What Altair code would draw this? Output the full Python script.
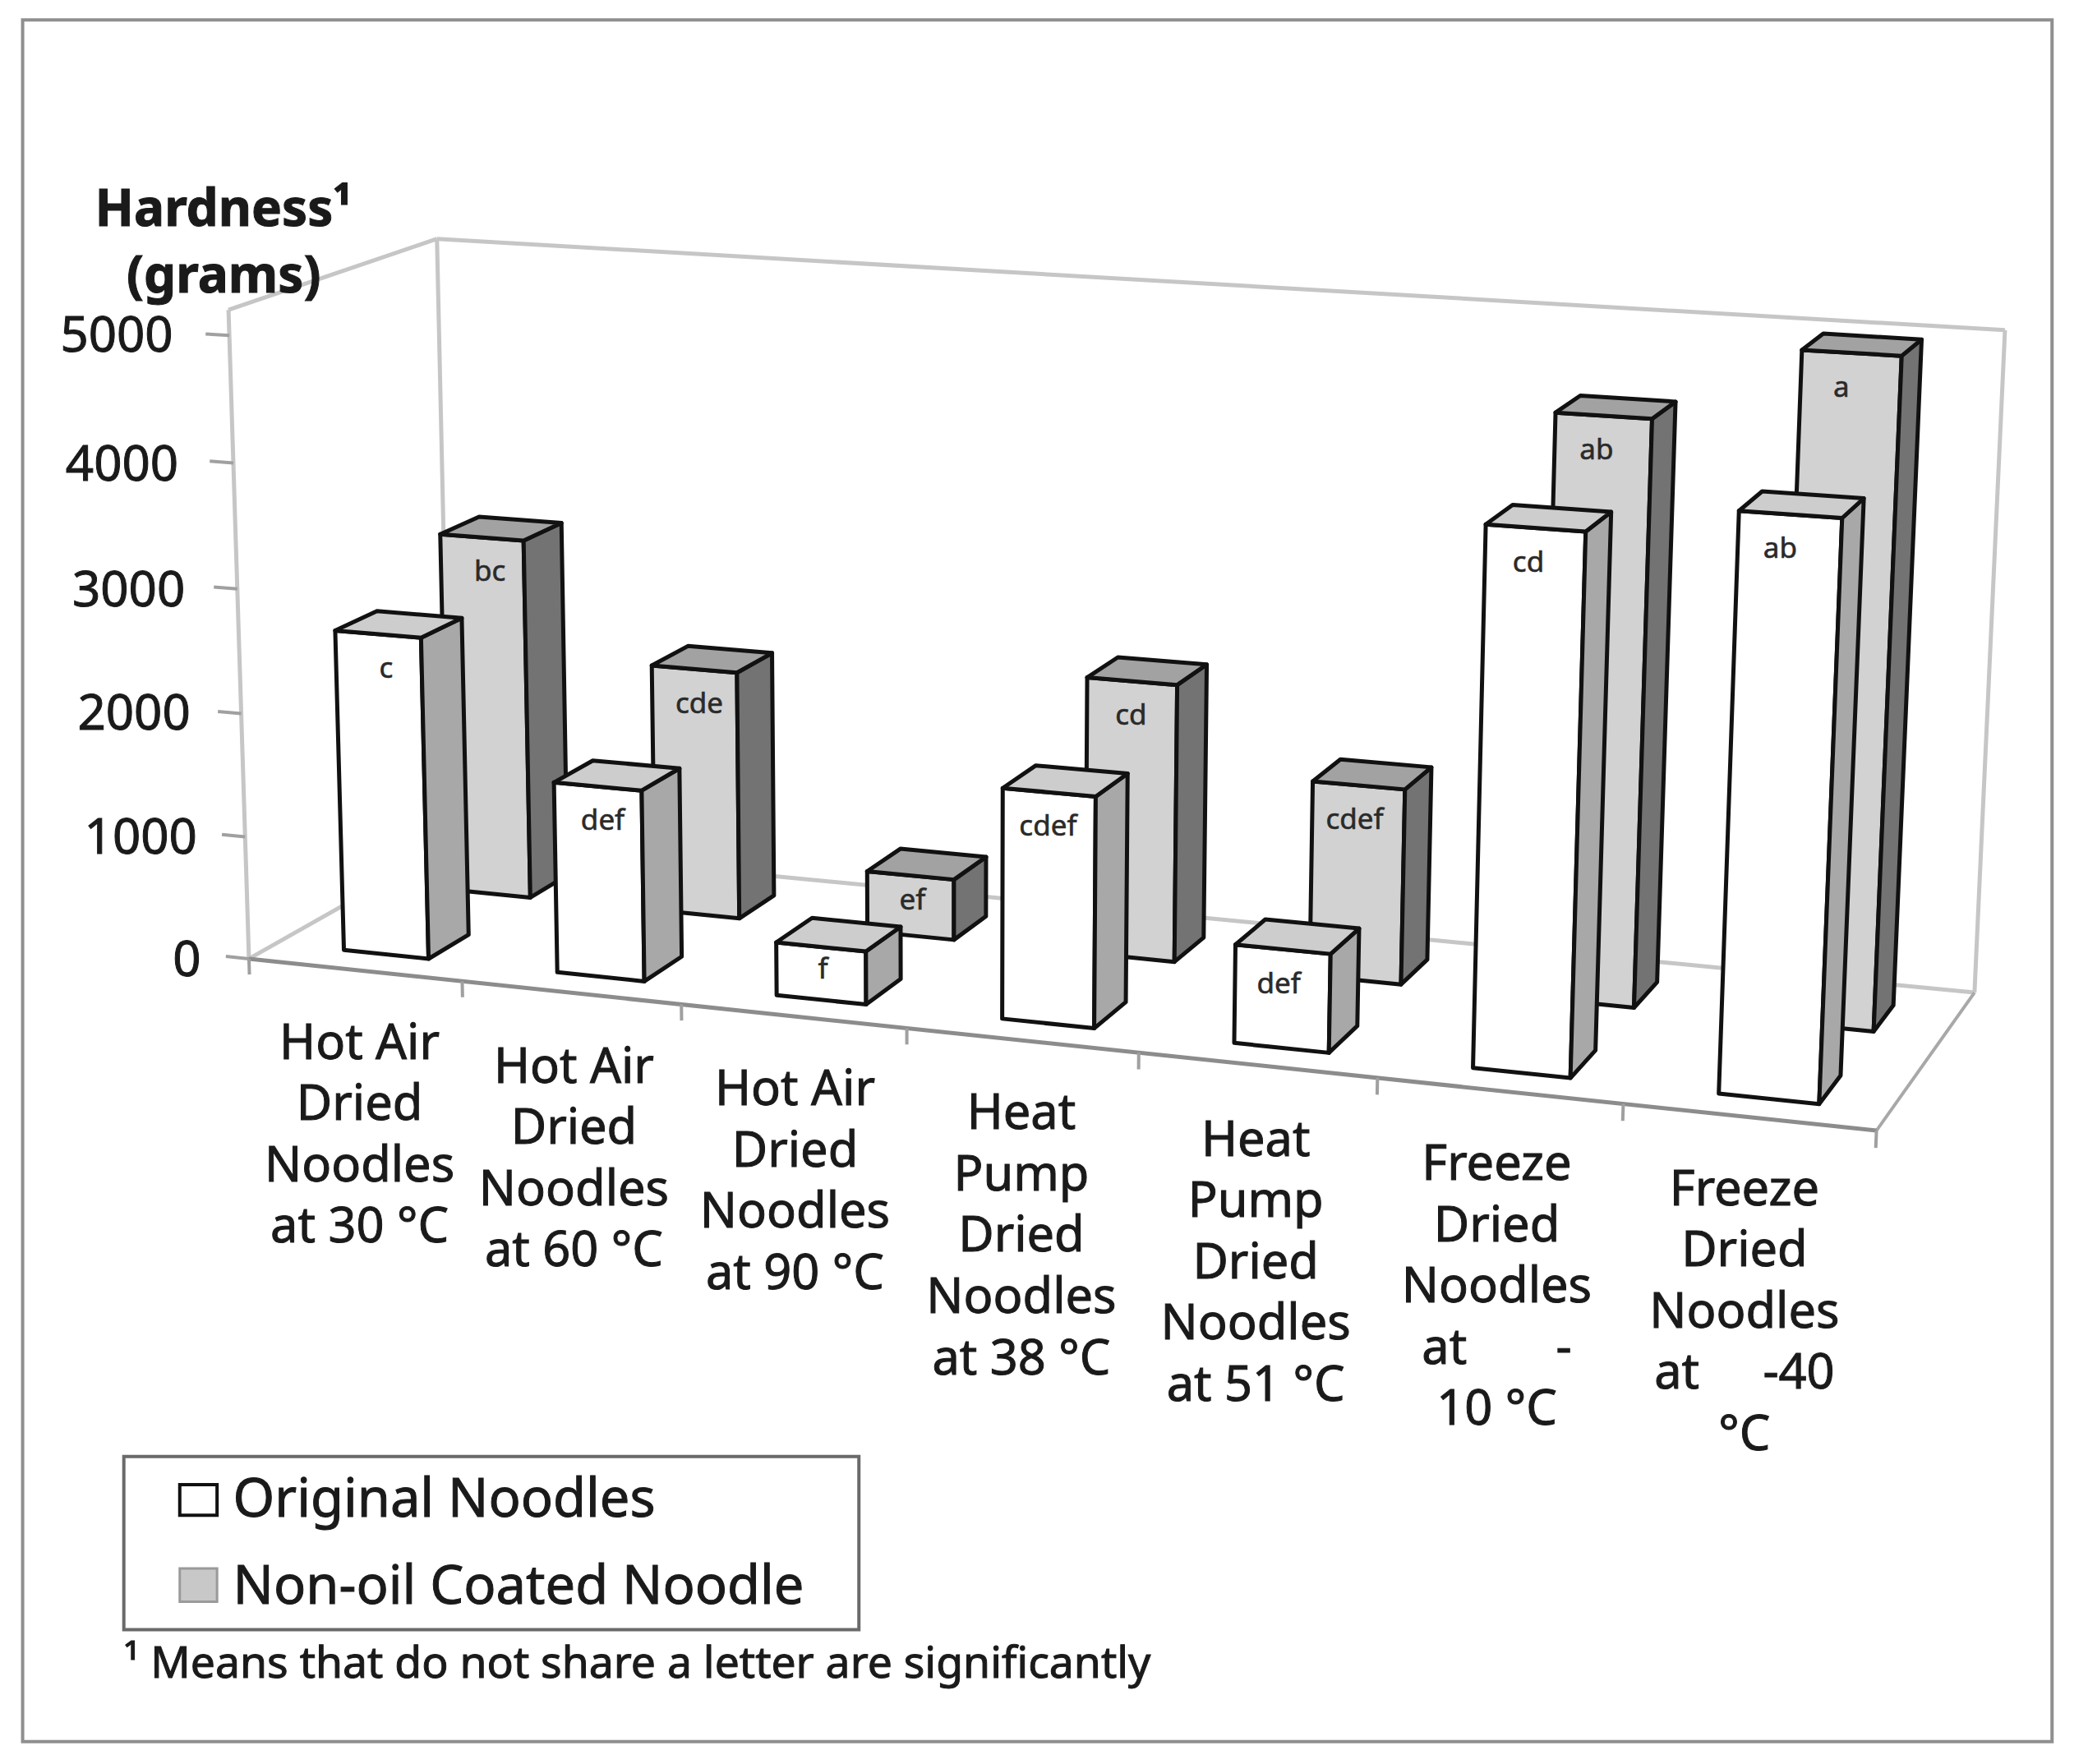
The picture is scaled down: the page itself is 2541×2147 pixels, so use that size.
import altair as alt
import numpy as np
import pandas as pd

FONT = "Noto Sans"
K = 2541 / 1568
HMAX = 5200

categories = [
    ["Hot Air", "Dried", "Noodles", "at 30 °C"],
    ["Hot Air", "Dried", "Noodles", "at 60 °C"],
    ["Hot Air", "Dried", "Noodles", "at 90 °C"],
    ["Heat", "Pump", "Dried", "Noodles", "at 38 °C"],
    ["Heat", "Pump", "Dried", "Noodles", "at 51 °C"],
    ["Freeze", "Dried", "Noodles", "at\u00a0\u00a0\u00a0\u00a0\u00a0\u00a0\u00a0-", "10 °C"],
    ["Freeze", "Dried", "Noodles", "at\u00a0\u00a0\u00a0\u00a0\u00a0-40", "°C"],
]
original = [2610, 1540, 425, 1820, 770, 4120, 4350]
coated = [3000, 2050, 500, 2250, 1570, 4600, 5190]
original_letters = ["c", "def", "f", "cdef", "def", "cd", "ab"]
coated_letters = ["bc", "cde", "ef", "cd", "cdef", "ab", "a"]
y_ticks = [0, 1000, 2000, 3000, 4000, 5000]
series_names = ["Original Noodles", "Non-oil Coated Noodle"]

# ---- perspective camera fitted to the plot box corners and front-edge ticks
box = [
    ((0, 0, 0), (190, 718)), ((7, 0, 0), (1408, 852)),
    ((1, 0, 0), (350, 736)), ((3, 0, 0), (680, 772)), ((5, 0, 0), (1035, 811)),
    ((0, 1, 0), (333, 637)), ((7, 1, 0), (1484, 742)),
    ((0, 0, HMAX), (167, 232)), ((0, 1, HMAX), (333, 180)),
    ((7, 1, HMAX), (1505, 248)),
]
rows = []
for (u, v, h), (px, py) in box:
    X = [u / 7, v, h / 5000, 1]
    a, b = px / 1000, py / 1000
    rows.append(X + [0, 0, 0, 0] + [-a * c for c in X])
    rows.append([0, 0, 0, 0] + X + [-b * c for c in X])
P = np.linalg.svd(np.array(rows))[2][-1].reshape(3, 4)


def proj(u, v, h):
    w = P @ np.array([u / 7, v, h / 5000, 1])
    return float(w[0] / w[2] * 1000), float(w[1] / w[2] * 1000)


# ---- bars as projected faces
faces, labels = [], []
n_poly = 0


def add_face(corners, fill):
    global n_poly
    for i, c in enumerate(corners):
        x, y = proj(*c)
        faces.append({"poly": n_poly, "ord": i, "x": x, "y": y, "fill": fill})
    n_poly += 1


U0, U1 = 0.32, 0.72
for vals, lets, (v0, v1), cols in [
    (coated, coated_letters, (0.65, 0.85), ("#d2d2d2", "#737373", "#a2a2a2")),
    (original, original_letters, (0.13, 0.33), ("#ffffff", "#a8a8a8", "#cdcdcd")),
]:
    for i, (val, let) in enumerate(zip(vals, lets)):
        a, b = i + U0, i + U1
        add_face([(a, v0, 0), (b, v0, 0), (b, v0, val), (a, v0, val)], cols[0])
        add_face([(b, v0, 0), (b, v1, 0), (b, v1, val), (b, v0, val)], cols[1])
        add_face([(a, v0, val), (b, v0, val), (b, v1, val), (a, v1, val)], cols[2])
        tl, tr, bl = proj(a, v0, val), proj(b, v0, val), proj(a, v0, 0)
        off = min(26, 0.42 * (bl[1] - tl[1]))
        labels.append({"x": (tl[0] + tr[0]) / 2 + 6 - 2.3 * i, "y": (tl[1] + tr[1]) / 2 + off, "t": let})
faces = pd.DataFrame(faces)
labels = pd.DataFrame(labels)

# ---- box lines and ticks
LIGHT, DARK = "#c6c6c6", "#8c8c8c"
segs = []


def seg(a, b, color, w):
    (x, y), (x2, y2) = proj(*a), proj(*b)
    segs.append({"x": x, "y": y, "x2": x2, "y2": y2, "c": color, "w": w})


seg((0, 0, 0), (0, 0, HMAX), LIGHT, 5)
seg((0, 1, 0), (0, 1, HMAX), LIGHT, 5)
seg((0, 0, HMAX), (0, 1, HMAX), LIGHT, 5)
seg((0, 1, HMAX), (7, 1, HMAX), LIGHT, 5)
seg((7, 1, 0), (7, 1, HMAX), LIGHT, 5)
seg((0, 1, 0), (7, 1, 0), LIGHT, 5)
seg((0, 0, 0), (0, 1, 0), LIGHT, 5)
seg((7, 0, 0), (7, 1, 0), "#a8a8a8", 4)
seg((0, 0, 0), (7, 0, 0), DARK, 5)
for t in y_ticks:
    seg((-0.11, 0, t), (0, 0, t), "#a0a0a0", 4)
for i in range(8):
    seg((i, 0, 0), (i, 0, -130), "#a0a0a0", 4)
segs = pd.DataFrame(segs)

# ---- text placed on the page
TXT = 2  # baseline correction of the middle-aligned text
cat_x = [270, 431, 597, 767, 943, 1124, 1310]
cat_y = [782, 800, 817, 835, 855, 873, 892]
LINE = 46
cat_rows = []
for cx, cy, lines in zip(cat_x, cat_y, categories):
    for j, s in enumerate(lines):
        cat_rows.append({"x": cx, "y": cy + j * LINE + TXT, "t": s})
cat_df = pd.DataFrame(cat_rows)

ytick_df = pd.DataFrame({
    "x": [151, 148, 143, 139, 134, 130],
    "y": [720 + TXT, 628 + TXT, 535 + TXT, 442 + TXT, 348 + TXT, 251 + TXT],
    "t": [str(t) for t in y_ticks],
})
title_df = pd.DataFrame({"x": [168, 168], "y": [156 + TXT, 206 + TXT], "t": ["Hardness¹", "(grams)"]})
legend_text = pd.DataFrame({"x": [175, 175], "y": [1125 + TXT, 1190 + TXT], "t": series_names})
foot_df = pd.DataFrame({"x": [93], "y": [1248 + TXT], "t": ["¹ Means that do not share a letter are significantly"]})
rects = pd.DataFrame([
    {"x": 17, "x2": 1541, "y": 15, "y2": 1308, "f": "#ffffff", "s": "#8f8f8f", "w": 4},
    {"x": 93, "x2": 645, "y": 1094, "y2": 1224, "f": "#ffffff", "s": "#6a6a6a", "w": 4},
    {"x": 135, "x2": 163, "y": 1115, "y2": 1138, "f": "#ffffff", "s": "#111111", "w": 4},
    {"x": 135, "x2": 163, "y": 1178, "y2": 1203, "f": "#c8c8c8", "s": "#9a9a9a", "w": 3},
])

# ---- chart
W, H = 2525, 2131
xs = alt.Scale(domain=[8 / K, (8 + W) / K], nice=False, zero=False)
ys = alt.Scale(domain=[(8 + H) / K, 8 / K], nice=False, zero=False)
X = alt.X("x:Q", scale=xs, axis=None)
Y = alt.Y("y:Q", scale=ys, axis=None)


def text_layer(df, size, weight="normal", align="center", color="#1a1a1a", sw=1.0):
    return alt.Chart(df).mark_text(
        font=FONT, fontSize=size, fontWeight=weight, align=align, baseline="middle",
        color=color, stroke=color, strokeWidth=sw
    ).encode(x=X, y=Y, text="t:N")


rect_layer = alt.Chart(rects).mark_rect().encode(
    x=X, x2="x2:Q", y=Y, y2="y2:Q",
    fill=alt.Fill("f:N", scale=None),
    stroke=alt.Stroke("s:N", scale=None),
    strokeWidth=alt.StrokeWidth("w:Q", scale=None),
)
seg_layer = alt.Chart(segs).mark_rule().encode(
    x=X, y=Y, x2="x2:Q", y2="y2:Q",
    color=alt.Color("c:N", scale=None),
    strokeWidth=alt.StrokeWidth("w:Q", scale=None),
)
face_layer = alt.Chart(faces).mark_line(
    filled=True, interpolate="linear-closed", stroke="#111111", strokeWidth=5, strokeJoin="round"
).encode(
    x=X, y=Y, order="ord:Q", detail="poly:N",
    fill=alt.Fill("fill:N", scale=None),
)

chart = alt.layer(
    rect_layer,
    seg_layer,
    face_layer,
    text_layer(labels, 35, color="#2a2a2a", sw=0.6),
    text_layer(cat_df, 59.5),
    text_layer(ytick_df, 60, align="right"),
    text_layer(title_df, 62, weight="bold"),
    text_layer(legend_text, 65, align="left"),
    text_layer(foot_df, 53.5, align="left"),
).properties(
    width=W, height=H, padding=0,
    autosize=alt.AutoSizeParams(type="fit", contains="padding"),
    background="white",
).configure_view(stroke=None)

chart.save("out.html", embed_options={"renderer": "svg", "actions": False})
